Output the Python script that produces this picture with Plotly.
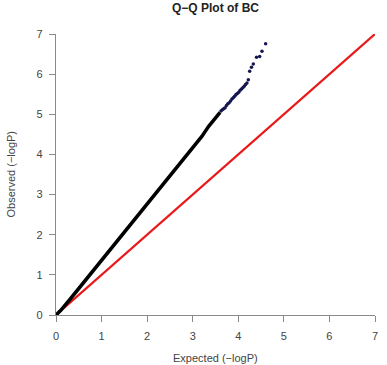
import plotly.graph_objects as go

# Main dense part of the Q-Q curve (reads as a solid black band)
main_x = [0, 0.1, 0.3, 0.6, 1.0, 1.5, 2.0, 2.5, 2.8, 3.0, 3.2, 3.35, 3.5, 3.6]
main_y = [0, 0.11, 0.38, 0.80, 1.39, 2.08, 2.76, 3.46, 3.88, 4.17, 4.45, 4.70, 4.90, 5.05]

# Upper tail (individual points)
tail_x = [3.62, 3.65, 3.68, 3.71, 3.74, 3.77, 3.80, 3.83, 3.86, 3.89, 3.92, 3.95, 3.98,
          4.01, 4.04, 4.07, 4.10, 4.13, 4.16, 4.19, 4.22, 4.25, 4.29, 4.33, 4.40, 4.47,
          4.52, 4.60]
tail_y = [5.08, 5.11, 5.14, 5.16, 5.22, 5.26, 5.29, 5.33, 5.38, 5.41, 5.45, 5.49, 5.52,
          5.55, 5.60, 5.63, 5.66, 5.70, 5.74, 5.78, 5.86, 6.07, 6.17, 6.25, 6.42, 6.44,
          6.57, 6.76]

# Reference line y = x
ref_x = [0, 7]
ref_y = [0, 7]

ticks = [0, 1, 2, 3, 4, 5, 6, 7]

fig = go.Figure()
fig.add_trace(go.Scatter(x=ref_x, y=ref_y, mode="lines",
                         line=dict(color="#e8191b", width=2.2), cliponaxis=False))
fig.add_trace(go.Scatter(x=main_x, y=main_y, mode="lines",
                         line=dict(color="black", width=3.5), cliponaxis=False))
fig.add_trace(go.Scatter(x=tail_x, y=tail_y, mode="markers",
                         marker=dict(color="#161650", size=3.5), cliponaxis=False))

axis_common = dict(
    range=[0, 7], tickvals=ticks, ticktext=[str(t) for t in ticks],
    showgrid=False, zeroline=False, showline=True, linecolor="#8a8a8a", linewidth=1.3,
    ticks="outside", ticklen=6, tickcolor="#8a8a8a", tickwidth=1.3,
    tickfont=dict(family="Liberation Sans, Arial", size=11, color="#444444"),
    fixedrange=True,
)

fig.update_layout(
    width=387, height=365,
    margin=dict(l=56, r=9, t=34, b=50),
    paper_bgcolor="white", plot_bgcolor="white",
    showlegend=False,
    xaxis=dict(**axis_common, ticklabelstandoff=5),
    yaxis=dict(**axis_common, ticklabelstandoff=4),
    annotations=[
        dict(text="<b>Q\u2212Q Plot of BC</b>", x=0.5, y=1, xref="paper", yref="paper",
             xanchor="center", yanchor="bottom", yshift=17, showarrow=False,
             font=dict(family="Liberation Sans, Arial", size=12, color="#222222")),
        dict(text="Expected (\u2212logP)", x=0.5, y=0, xref="paper", yref="paper",
             xanchor="center", yanchor="top", yshift=-35, showarrow=False,
             font=dict(family="Liberation Sans, Arial", size=11, color="#444444")),
        dict(text="Observed (\u2212logP)", x=0, y=0.5, xref="paper", yref="paper",
             xanchor="center", yanchor="middle", xshift=-46, textangle=-90, showarrow=False,
             font=dict(family="Liberation Sans, Arial", size=11, color="#444444")),
    ],
)

fig.write_html("out.html")
